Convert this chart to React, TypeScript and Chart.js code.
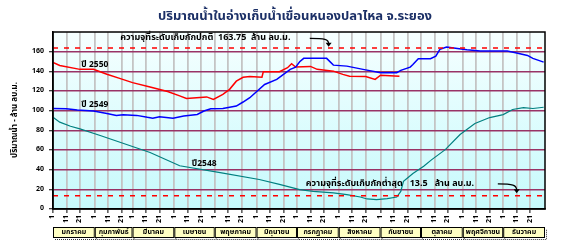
import React, { useEffect, useRef } from "react";
import { Chart, registerables } from "chart.js";

Chart.register(...registerables);

const TITLE = "ปริมาณน้ำในอ่างเก็บน้ำเขื่อนหนองปลาไหล จ.ระยอง";
const Y_TITLE = "ปริมาณน้ำ - ล้าน ลบ.ม.";
const MONTHS = ["มกราคม", "กุมภาพันธ์", "มีนาคม", "เมษายน", "พฤษภาคม", "มิถุนายน", "กรกฎาคม", "สิงหาคม", "กันยายน", "ตุลาคม", "พฤศจิกายน", "ธันวาคม"];
const MONTH_START_DAYS = [0, 31, 59, 90, 120, 151, 181, 212, 243, 273, 304, 334, 365];
const DEKAD_OFFSETS = [0, 10, 20];
const DEKAD_LABELS = ["1", "11", "21"];
const Y_TICKS = [0, 20, 40, 60, 80, 100, 120, 140, 160];

const NORMAL_CAPACITY = 163.75;
const MIN_CAPACITY = 13.5;
const NORMAL_TEXT = "ความจุที่ระดับเก็บกักปกติ  163.75  ล้าน ลบ.ม.";
const MIN_TEXT = "ความจุที่ระดับเก็บกักต่ำสุด   13.5   ล้าน ลบ.ม.";

const LABEL_2550 = "ปี 2550";
const LABEL_2549 = "ปี 2549";
const LABEL_2548 = "ปี2548";

// day-of-year and volume (million m3)
const DAYS_2550 = [0, 5, 20, 30, 40, 50, 59, 72, 85, 94, 99, 114, 119, 126, 131, 136, 141, 146, 155, 156, 168, 174, 177, 180, 191, 196, 208, 215, 220, 232, 239, 243, 257];
const VOL_2550 = [149, 146, 142, 142, 137, 132.6, 128.5, 124, 119.4, 115, 112.5, 114, 111.5, 116.6, 121.7, 130, 134, 134.7, 134.1, 139.6, 139.6, 143.7, 147.8, 144.3, 145, 142, 140.2, 136.9, 135, 134.8, 131.8, 136, 135];

const DAYS_2549 = [0, 10, 18, 30, 40, 47, 52, 62, 70, 74, 79, 89, 97, 107, 112, 117, 126, 136, 141, 146, 157, 166, 171, 176, 180, 183, 186, 203, 208, 218, 230, 243, 255, 258, 265, 267, 271, 280, 284, 287, 292, 300, 307, 317, 337, 344, 352, 356, 364];
const VOL_2549 = [102.3, 102, 100.6, 99.6, 97.2, 95.2, 95.9, 95.2, 93.2, 92.4, 93.9, 92.4, 94.5, 96.2, 99.6, 102, 102.3, 104.7, 108.8, 113.2, 126.6, 131.8, 136.9, 142, 144.3, 149.8, 153.2, 153.2, 146.3, 145.3, 142, 138.6, 138.6, 141, 144.3, 147, 152.9, 152.9, 155.5, 162.3, 164.7, 163.3, 162, 160.6, 160.6, 158.6, 156.2, 153.2, 149.4];

const DAYS_2548 = [0, 5, 13, 20, 35, 72, 94, 124, 153, 168, 183, 193, 208, 218, 228, 233, 240, 248, 255, 258, 260, 263, 267, 275, 281, 291, 302, 313, 324, 334, 341, 349, 356, 364];
const VOL_2548 = [93.4, 88.3, 84.2, 81.5, 74.7, 57.4, 44, 37, 30, 25, 19.7, 17.9, 16.3, 14.6, 12.2, 10.2, 9.5, 10.5, 12.2, 17.9, 28.1, 31.6, 36, 43.4, 50.2, 60.4, 75.7, 87, 93, 96, 101.2, 103, 102.2, 103.5];

const FONT = "'Noto Sans Thai', 'Noto Sans', Tahoma, 'Liberation Sans', sans-serif";

const pts = (d: number[], v: number[]) => d.map((x, i) => ({ x, y: v[i] }));

const decor = {
  id: "decor",
  beforeDraw(chart: any) {
    const { ctx, chartArea: a } = chart;
    ctx.save();
    ctx.fillStyle = "#ffffff";
    ctx.fillRect(0, 0, chart.width, chart.height);
    const g = ctx.createLinearGradient(0, a.top, 0, a.bottom);
    g.addColorStop(0, "#F6FFFF");
    g.addColorStop(1, "#C6FAFC");
    ctx.fillStyle = g;
    ctx.fillRect(a.left, a.top, a.right - a.left, a.bottom - a.top);
    ctx.restore();
  },
  afterDraw(chart: any) {
    const { ctx, chartArea: a } = chart;
    const xs = chart.scales.x;
    const ys = chart.scales.y;
    const px = (d: number) => xs.getPixelForValue(d);
    const py = (v: number) => ys.getPixelForValue(v);
    ctx.save();
    ctx.strokeStyle = "#000";
    ctx.lineWidth = 1.5;
    ctx.strokeRect(a.left, a.top, a.right - a.left, a.bottom - a.top);

    ctx.fillStyle = "#1b2f66";
    ctx.font = `bold 13px ${FONT}`;
    ctx.textAlign = "center";
    ctx.textBaseline = "middle";
    ctx.fillText(TITLE, 295, 17);

    ctx.save();
    ctx.translate(15, 120);
    ctx.rotate(-Math.PI / 2);
    ctx.fillStyle = "#000";
    ctx.font = `bold 8px ${FONT}`;
    ctx.fillText(Y_TITLE, 0, 0);
    ctx.restore();

    ctx.fillStyle = "#000";
    ctx.font = `bold 8.5px ${FONT}`;
    ctx.textAlign = "left";
    ctx.fillText(LABEL_2550, px(21), py(146));
    ctx.fillText(LABEL_2549, px(21), py(105.6));
    ctx.fillText(LABEL_2548, px(103), py(45.9));

    ctx.textAlign = "center";
    ctx.font = `bold 9px ${FONT}`;
    ctx.fillText(NORMAL_TEXT, px(113), py(173.3));
    ctx.fillText(MIN_TEXT, px(250), py(25.5));

    const arrow = (x0: number, y0: number, x1: number, y1: number) => {
      ctx.strokeStyle = "#000";
      ctx.lineWidth = 1.2;
      ctx.beginPath();
      ctx.moveTo(x0, y0);
      ctx.bezierCurveTo(x0 + (x1 - x0) * 0.8, y0, x1, y0 + 1, x1, y1 - 3);
      ctx.stroke();
      ctx.fillStyle = "#000";
      ctx.beginPath();
      ctx.moveTo(x1 - 3, y1 - 4);
      ctx.lineTo(x1 + 3, y1 - 4);
      ctx.lineTo(x1, y1);
      ctx.closePath();
      ctx.fill();
    };
    arrow(px(190.5), py(173.5), px(204.5), py(165));
    arrow(px(330), py(25.5), px(344), py(16));

    const by = a.bottom + 18;
    const bh = 11;
    for (let i = 0; i < MONTHS.length; i++) {
      const x0 = px(MONTH_START_DAYS[i]);
      const x1 = px(MONTH_START_DAYS[i + 1]);
      ctx.strokeStyle = "#333";
      ctx.lineWidth = 1;
      ctx.setLineDash([1, 1]);
      ctx.beginPath();
      ctx.moveTo(x0 + 2, by + bh + 1.5);
      ctx.lineTo(x1 + 1.5, by + bh + 1.5);
      ctx.lineTo(x1 + 1.5, by + 2);
      ctx.stroke();
      ctx.setLineDash([]);
      ctx.fillStyle = "#FFFFC4";
      ctx.fillRect(x0, by, x1 - x0, bh);
      ctx.strokeStyle = "#000";
      ctx.strokeRect(x0 + 0.5, by + 0.5, x1 - x0 - 1, bh - 1);
      ctx.fillStyle = "#000";
      ctx.font = `bold 7px ${FONT}`;
      ctx.textAlign = "center";
      ctx.textBaseline = "middle";
      ctx.fillText(MONTHS[i], (x0 + x1) / 2, by + bh / 2 + 0.5);
    }
    ctx.restore();
  },
};

export default function App() {
  const ref = useRef<HTMLCanvasElement | null>(null);
  useEffect(() => {
    document.body.style.margin = "0";
    const canvas = ref.current!;
    const chart = new Chart(canvas, {
      type: "line",
      data: {
        datasets: [
          { label: "normal", data: pts([0, 365], [NORMAL_CAPACITY, NORMAL_CAPACITY]), borderColor: "#FF0000", borderWidth: 1.5, borderDash: [5, 6], pointRadius: 0 },
          { label: "min", data: pts([0, 365], [MIN_CAPACITY, MIN_CAPACITY]), borderColor: "#FF0000", borderWidth: 1.5, borderDash: [5, 6], pointRadius: 0 },
          { label: "2548", data: pts(DAYS_2548, VOL_2548), borderColor: "#008080", borderWidth: 1.2, pointRadius: 0 },
          { label: "2549", data: pts(DAYS_2549, VOL_2549), borderColor: "#0000FF", borderWidth: 1.5, pointRadius: 0 },
          { label: "2550", data: pts(DAYS_2550, VOL_2550), borderColor: "#FF0000", borderWidth: 1.5, pointRadius: 0 },
        ],
      },
      options: {
        responsive: false,
        animation: false,
        devicePixelRatio: 1,
        layout: { padding: { top: 32, right: 43, left: 0, bottom: 0 } },
        plugins: { legend: { display: false }, tooltip: { enabled: false }, title: { display: false } },
        elements: { line: { tension: 0 } },
        scales: {
          x: {
            type: "linear",
            min: 0,
            max: 365,
            afterBuildTicks: (s: any) => {
              const t: any[] = [];
              for (let m = 0; m < 12; m++) for (const o of DEKAD_OFFSETS) t.push({ value: MONTH_START_DAYS[m] + o });
              s.ticks = t;
            },
            afterFit: (s: any) => { s.height = 33; },
            ticks: {
              autoSkip: false,
              maxRotation: 90,
              minRotation: 90,
              padding: 2,
              color: "#000",
              font: { size: 7, weight: "bold", family: FONT },
              callback: (_v: any, i: number) => DEKAD_LABELS[i % 3],
            },
            grid: {
              color: (c: any) => (c.tick && c.tick.value === 0 ? "rgba(0,0,0,0)" : "#C4C4C4"),
              lineWidth: 1.8,
              tickColor: "#000",
              tickLength: 4,
              tickWidth: 1,
            },
            border: { color: "#000", width: 1.5 },
          },
          y: {
            type: "linear",
            min: 0,
            max: 180,
            afterBuildTicks: (s: any) => { s.ticks = Y_TICKS.map((v) => ({ value: v })); },
            afterFit: (s: any) => { s.width = 53; },
            ticks: {
              padding: 5,
              color: "#000",
              font: { size: 7, weight: "bold", family: FONT },
              callback: (v: any) => String(v),
            },
            grid: {
              color: (c: any) => (c.tick && c.tick.value === 0 ? "rgba(0,0,0,0)" : "#993366"),
              lineWidth: 1.5,
              tickColor: "#000",
              tickLength: 4,
              tickWidth: 1,
            },
            border: { color: "#000", width: 1.5 },
          },
        },
      },
      plugins: [decor],
    } as any);
    return () => chart.destroy();
  }, []);
  return <canvas ref={ref} width={588} height={242} style={{ display: "block" }} />;
}
